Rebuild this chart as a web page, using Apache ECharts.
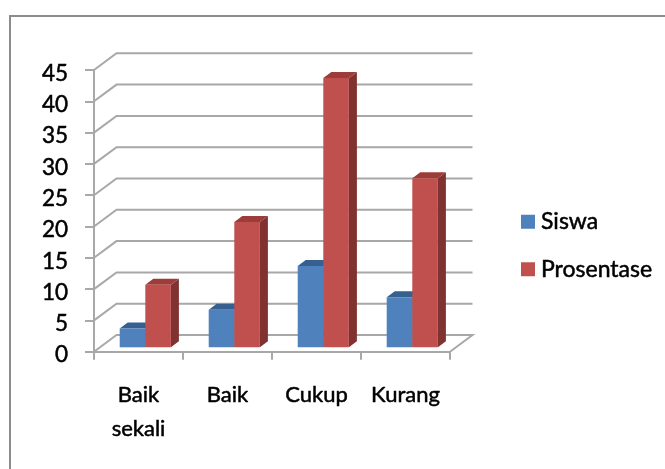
<!DOCTYPE html>
<html><head><meta charset="utf-8">
<style>html,body{margin:0;padding:0;background:#fff}#c{width:665px;height:469px;filter:blur(0.55px)}</style>
<script src="https://cdn.jsdelivr.net/npm/echarts@6/dist/echarts.min.js"></script>
</head><body><div id="c"></div>
<script>
const categories = ['Baik\nsekali', 'Baik', 'Cukup', 'Kurang'];
const siswa = [3, 6, 13, 8];
const prosentase = [10, 20, 43, 27];
const yTicks = [0, 5, 10, 15, 20, 25, 30, 35, 40, 45];

const FONT = 'Lato';
const DX = 22.5, DY = -16.7;      // wall depth
const BX = 6.8, BY = -4.4;        // bar position inside the depth
const BW = 25.6, SX = 8, SY = -6; // bar width and bar depth

function wallItem(params, api) {
  const v = api.value(0);
  const band = api.size([1, 0])[0];
  const p = api.coord([0, v]);
  const q = api.coord([categories.length - 1, v]);
  const x0 = p[0] - band / 2, x1 = q[0] + band / 2, y = p[1];
  const pts = [[x0, y], [x0 + DX, y + DY], [x1 + DX, y + DY]];
  if (v === 0) pts.push([x1, y]);
  return {type: 'polyline', shape: {points: pts}, style: {fill: 'none', stroke: '#a8a8a8', lineWidth: 2}, silent: true};
}
function barRenderer(offset, front, top, side, edge) {
  return function (params, api) {
    const c = api.coord([api.value(0), api.value(1)]);
    const b = api.coord([api.value(0), 0]);
    const xl = c[0] + BX + offset * BW, xr = xl + BW;
    const yt = c[1] + BY, yb = b[1] + BY;
    return {type: 'group', children: [
      {type: 'polygon', shape: {points: [[xr, yt], [xr + SX, yt + SY], [xr + SX, yb + SY], [xr, yb]]}, style: {fill: side}},
      {type: 'polygon', shape: {points: [[xl, yt], [xl + SX, yt + SY], [xr + SX, yt + SY], [xr, yt]]}, style: {fill: top}},
      {type: 'rect', shape: {x: xl, y: yt, width: BW, height: yb - yt}, style: {
        fill: {type: 'linear', x: 0, y: 0, x2: 1, y2: 0, colorStops: [{offset: 0, color: edge}, {offset: 0.25, color: front}, {offset: 1, color: front}]}
      }}
    ]};
  };
}
const heavy = {textBorderColor: '#000', textBorderWidth: 0.5};
const chart = echarts.init(document.getElementById('c'), null, {renderer: 'canvas'});
chart.setOption({
  animation: false,
  backgroundColor: '#fff',
  grid: {left: 94, right: 215, top: 70, bottom: 117.3},
  legend: {
    left: 516, top: 205, orient: 'vertical', itemWidth: 14, itemHeight: 14, itemGap: 24, icon: 'rect',
    textStyle: Object.assign({fontFamily: FONT, fontSize: 23, color: '#000', padding: [0, 0, 0, 1]}, heavy),
    data: ['Siswa', 'Prosentase']
  },
  xAxis: {
    type: 'category', data: categories,
    axisLine: {show: true, lineStyle: {color: '#a8a8a8', width: 2}},
    axisTick: {show: true, length: 8, alignWithLabel: false, lineStyle: {color: '#a8a8a8', width: 2}},
    axisLabel: Object.assign({fontFamily: FONT, fontSize: 22, color: '#000', margin: 26, lineHeight: 34, interval: 0}, heavy)
  },
  yAxis: {
    type: 'value', min: 0, max: 45, interval: 5,
    axisLine: {show: true, lineStyle: {color: '#a8a8a8', width: 2}},
    axisTick: {show: true, length: 9, lineStyle: {color: '#a8a8a8', width: 2}},
    axisLabel: {
      margin: 26, formatter: '{n|{value}}',
      rich: {n: Object.assign({fontFamily: FONT, fontSize: 22.5, color: '#000', padding: [7, 0, 0, 0]}, heavy)}
    },
    splitLine: {show: false}
  },
  graphic: [{type: 'polyline', shape: {points: [[10, 469], [10, 16], [665, 16]]}, style: {fill: 'none', stroke: '#8c8c8c', lineWidth: 2}, z: 0}],
  series: [
    {type: 'custom', name: 'walls', z: 1, clip: false, silent: true, renderItem: wallItem, data: yTicks.map(v => [v]), encode: {y: 0}},
    {type: 'custom', name: 'Siswa', z: 3, clip: false, itemStyle: {color: '#4f81bd'},
      renderItem: barRenderer(-1, '#4f81bd', '#35608f', '#2f5580', '#4f81bd'),
      data: siswa.map((v, i) => [i, v]), encode: {x: 0, y: 1}},
    {type: 'custom', name: 'Prosentase', z: 4, clip: false, itemStyle: {color: '#c0504d'},
      renderItem: barRenderer(0, '#c0504d', '#9c3d3a', '#7f3230', '#c0504d'),
      data: prosentase.map((v, i) => [i, v]), encode: {x: 0, y: 1}}
  ]
});
</script></body></html>
